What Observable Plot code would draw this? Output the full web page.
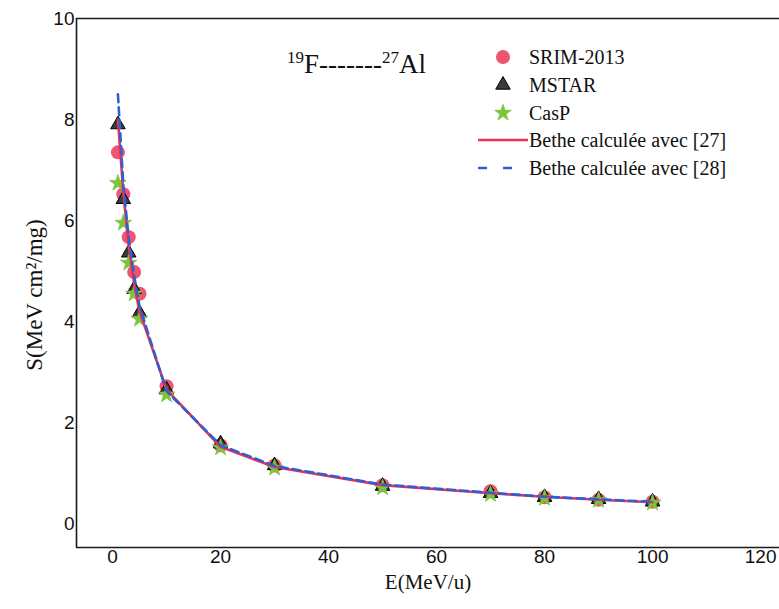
<!DOCTYPE html>
<html>
<head>
<meta charset="utf-8">
<script src="https://cdn.jsdelivr.net/npm/d3@7"></script>
<script src="https://cdn.jsdelivr.net/npm/@observablehq/plot@0.6"></script>
<style>
  html, body { margin: 0; padding: 0; background: #fff; overflow: hidden; }
  #wrap { position: relative; width: 779px; height: 609px; }
  #overlay { position: absolute; left: 0; top: 0; pointer-events: none; }
</style>
</head>
<body>
<div id="wrap"></div>
<script>
// ---- data ----
const energy = [1, 2, 3, 4, 5, 10, 20, 30, 50, 70, 80, 90, 100];
const srim   = [7.35, 6.52, 5.67, 4.98, 4.55, 2.72, 1.55, 1.15, 0.76, 0.64, 0.52, 0.47, 0.43];
const mstar  = [7.90, 6.42, 5.36, 4.64, 4.17, 2.65, 1.58, 1.15, 0.74, 0.60, 0.52, 0.48, 0.43];
const casp   = [6.74, 5.95, 5.16, 4.55, 4.05, 2.55, 1.50, 1.10, 0.71, 0.58, 0.50, 0.46, 0.41];
const bethe27 = [8.00, 6.55, 5.50, 4.75, 4.20, 2.65, 1.52, 1.12, 0.76, 0.60, 0.53, 0.47, 0.42];
const bethe28 = [8.50, 6.70, 5.65, 4.90, 4.30, 2.62, 1.55, 1.14, 0.77, 0.61, 0.53, 0.48, 0.43];
const xTicks = [0, 20, 40, 60, 80, 100, 120];
const yTicks = [0, 2, 4, 6, 8, 10];
const xDomain = [-6.67, 123.5];
const yDomain = [-0.475, 10];
const legendLabels = ["SRIM-2013", "MSTAR", "CasP", "Bethe calculée avec [27]", "Bethe calculée avec [28]"];

const tab = (ys) => energy.map((e, i) => ({E: e, S: ys[i]}));

const colors = {srim: "#ef5470", tri: "#3a3a3a", star: "#7cc43c", red: "#f0304f", blue: "#2f5fd0"};
const sans = "'Liberation Sans', Arial, sans-serif";
const serif = "'Liberation Serif', 'Times New Roman', serif";

const chart = Plot.plot({
  width: 779,
  height: 609,
  marginTop: 18,
  marginBottom: 62,
  marginLeft: 76,
  marginRight: 0,
  style: {fontFamily: sans, fontSize: "19px", color: "#111", background: "#fff"},
  x: {domain: xDomain},
  y: {domain: yDomain},
  marks: [
    Plot.dot(tab(srim), {x: "E", y: "S", r: 7, fill: colors.srim, stroke: "none"}),
    Plot.dot(tab(mstar), {x: "E", y: "S", symbol: "triangle", r: 5.4, fill: colors.tri, stroke: "#000", strokeWidth: 1}),
    Plot.dot(tab(casp), {x: "E", y: "S", symbol: "star", r: 5.2, fill: colors.star, stroke: colors.star, strokeWidth: 0.8}),
    Plot.line(tab(bethe27), {x: "E", y: "S", stroke: colors.red, strokeWidth: 2.6}),
    Plot.line(tab(bethe28), {x: "E", y: "S", stroke: colors.blue, strokeWidth: 2.6, strokeDasharray: "8,5"}),
    Plot.ruleX([xDomain[0]], {stroke: "#1a1a1a", strokeWidth: 1.6}),
    Plot.ruleY([yDomain[0]], {stroke: "#1a1a1a", strokeWidth: 1.6}),
    Plot.ruleY([yDomain[1]], {stroke: "#1a1a1a", strokeWidth: 1.6}),
    Plot.axisX({ticks: xTicks, tickSize: 0, tickPadding: 2, label: null, fontSize: 19}),
    Plot.axisY({ticks: yTicks, tickSize: 0, tickPadding: 2, label: null, fontSize: 19}),
    Plot.text(["E(MeV/u)"], {frameAnchor: "bottom", dy: 41, fontFamily: serif, fontSize: 21, fill: "#111"}),
    Plot.text(["S(MeV cm²/mg)"], {frameAnchor: "left", textAnchor: "middle", rotate: -90, dx: -42, dy: 12, fontFamily: serif, fontSize: 23, fill: "#111"})
  ]
});
document.getElementById("wrap").appendChild(chart);

// ---- overlay: title + legend ----
const ov = d3.select("#wrap").append("svg").attr("id", "overlay")
  .attr("width", 779).attr("height", 609);

const title = ov.append("text").attr("x", 287).attr("y", 73)
  .attr("font-family", serif).attr("font-size", 27).attr("fill", "#111");
title.append("tspan").attr("font-size", 17).attr("dy", -10).text("19");
title.append("tspan").attr("dy", 10).text("F-------");
title.append("tspan").attr("font-size", 17).attr("dy", -10).text("27");
title.append("tspan").attr("dy", 10).text("Al");

const rowY = [57, 85, 113, 140, 168];
const symX = 503;
ov.append("circle").attr("cx", symX).attr("cy", rowY[0]).attr("r", 7).attr("fill", colors.srim);
ov.append("path").attr("transform", `translate(${symX},${rowY[1]})`)
  .attr("d", d3.symbol(d3.symbolTriangle, Math.PI * 5.4 * 5.4)())
  .attr("fill", colors.tri).attr("stroke", "#000");
ov.append("path").attr("transform", `translate(${symX},${rowY[2]})`)
  .attr("d", d3.symbol(d3.symbolStar, Math.PI * 5.2 * 5.2)())
  .attr("fill", colors.star).attr("stroke", colors.star).attr("stroke-width", 0.8);
ov.append("line").attr("x1", 478).attr("x2", 528).attr("y1", rowY[3]).attr("y2", rowY[3])
  .attr("stroke", colors.red).attr("stroke-width", 2.6);
ov.append("line").attr("x1", 478).attr("x2", 513).attr("y1", rowY[4]).attr("y2", rowY[4])
  .attr("stroke", colors.blue).attr("stroke-width", 2.6).attr("stroke-dasharray", "9,16");
legendLabels.forEach((t, i) => {
  ov.append("text").attr("x", 529).attr("y", rowY[i] + 7)
    .attr("font-family", serif).attr("font-size", 20).attr("fill", "#111").text(t);
});
</script>
</body>
</html>
